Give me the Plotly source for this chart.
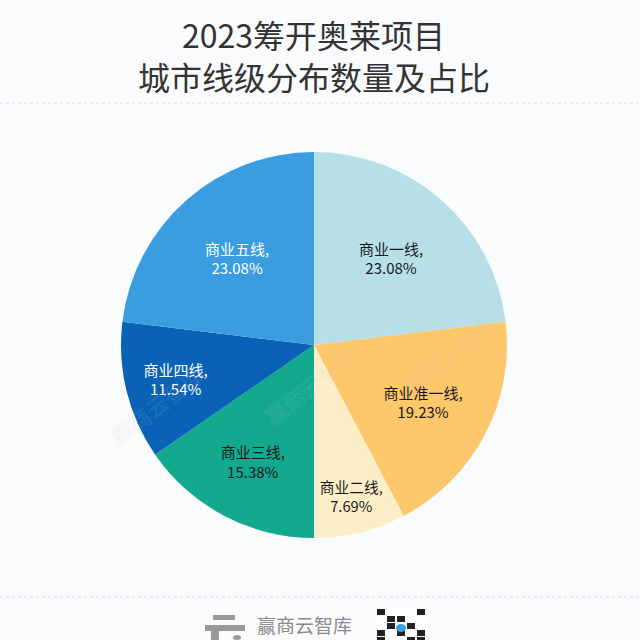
import plotly.graph_objects as go

categories = ["商业一线", "商业准一线", "商业二线", "商业三线", "商业四线", "商业五线"]
counts = [6, 5, 2, 4, 3, 6]
colors = ["#b7dfe8", "#fdc76c", "#fcefc8", "#12a98f", "#0a62b6", "#399ddf"]
text_colors = ["#1a1a1a", "#1a1a1a", "#1a1a1a", "#1a1a1a", "#ffffff", "#ffffff"]

title_lines = ["2023筹开奥莱项目", "城市线级分布数量及占比"]
footer_text = "赢商云智库"

fig = go.Figure()
fig.add_trace(go.Pie(
    labels=categories,
    values=counts,
    sort=False,
    direction="clockwise",
    rotation=0,
    marker=dict(colors=colors, line=dict(width=0)),
    texttemplate="%{label},<br>%{percent:.2%}",
    textposition="inside",
    insidetextorientation="horizontal",
    textfont=dict(family="Noto Sans CJK SC", size=15, color=text_colors),
    domain=dict(x=[121/640, 507/640], y=[1-538/640, 1-152/640]),
    showlegend=False,
    hoverinfo="skip",
))

for line, ypix in zip(title_lines, [34, 76]):
    fig.add_annotation(
        text=line, x=0.49, y=1-ypix/640, xref="paper", yref="paper",
        showarrow=False, font=dict(family="Noto Sans CJK SC", size=32, color="#333333"),
        xanchor="center", yanchor="middle",
    )

shapes = [
    dict(type="line", xref="paper", yref="paper", x0=0, x1=1, y0=1-103/640, y1=1-103/640,
         line=dict(color="#d8dde3", width=1, dash="dot")),
    dict(type="line", xref="paper", yref="paper", x0=0, x1=1, y0=1-597/640, y1=1-597/640,
         line=dict(color="#d8dde3", width=1, dash="dot")),
    # logo mark
    dict(type="rect", xref="paper", yref="paper", x0=213/640, x1=235/640, y0=1-620/640, y1=1-615/640,
         fillcolor="#9a9a9a", line=dict(width=0)),
    dict(type="rect", xref="paper", yref="paper", x0=205/640, x1=245/640, y0=1-631/640, y1=1-625/640,
         fillcolor="#9a9a9a", line=dict(width=0)),
    dict(type="rect", xref="paper", yref="paper", x0=211/640, x1=219/640, y0=0, y1=1-631/640,
         fillcolor="#9a9a9a", line=dict(width=0)),
    dict(type="circle", xref="paper", yref="paper", x0=233/640, x1=241/640, y0=0, y1=1-635/640,
         fillcolor="#9a9a9a", line=dict(width=0)),
    # QR placeholder
    dict(type="rect", xref="paper", yref="paper", x0=375/640, x1=427/640, y0=0, y1=1-607/640,
         fillcolor="#ffffff", line=dict(width=0)),
]
qr_cells = [(0, 0), (4, 0), (0, 3), (2, 1), (3, 2), (1, 2), (4, 3), (2, 3), (3, 4), (1, 1), (0, 4), (4, 4)]
for cx, cy in qr_cells:
    shapes.append(dict(type="rect", xref="paper", yref="paper",
                       x0=(377 + cx*10)/640, x1=(377 + cx*10 + 8)/640,
                       y0=1-(609 + cy*7 + 6)/640, y1=1-(609 + cy*7)/640,
                       fillcolor="#222222", line=dict(width=0)))
shapes.append(dict(type="circle", xref="paper", yref="paper",
                   x0=396/640, x1=406/640, y0=1-632/640, y1=1-624/640,
                   fillcolor="#3aa0e0", line=dict(width=0)))

fig.add_annotation(
    text=footer_text, x=304/640, y=1-624/640, xref="paper", yref="paper",
    showarrow=False, font=dict(family="Noto Sans CJK SC", size=19, color="#8a8a8a"),
    xanchor="center", yanchor="middle",
)

# faint watermarks
for wx, wy in [(100/640, 1-405/640), (310/640, 1-385/640), (505/640, 1-355/640)]:
    fig.add_annotation(text=footer_text, x=wx, y=wy, xref="paper", yref="paper", showarrow=False,
                       textangle=-38, font=dict(family="Noto Sans CJK SC", size=22,
                                                color="rgba(200,200,200,0.15)"))

fig.update_layout(
    width=640, height=640,
    margin=dict(l=0, r=0, t=0, b=0),
    paper_bgcolor="#f9fbfd",
    plot_bgcolor="#f9fbfd",
    shapes=shapes,
)

fig.write_html("out.html")
